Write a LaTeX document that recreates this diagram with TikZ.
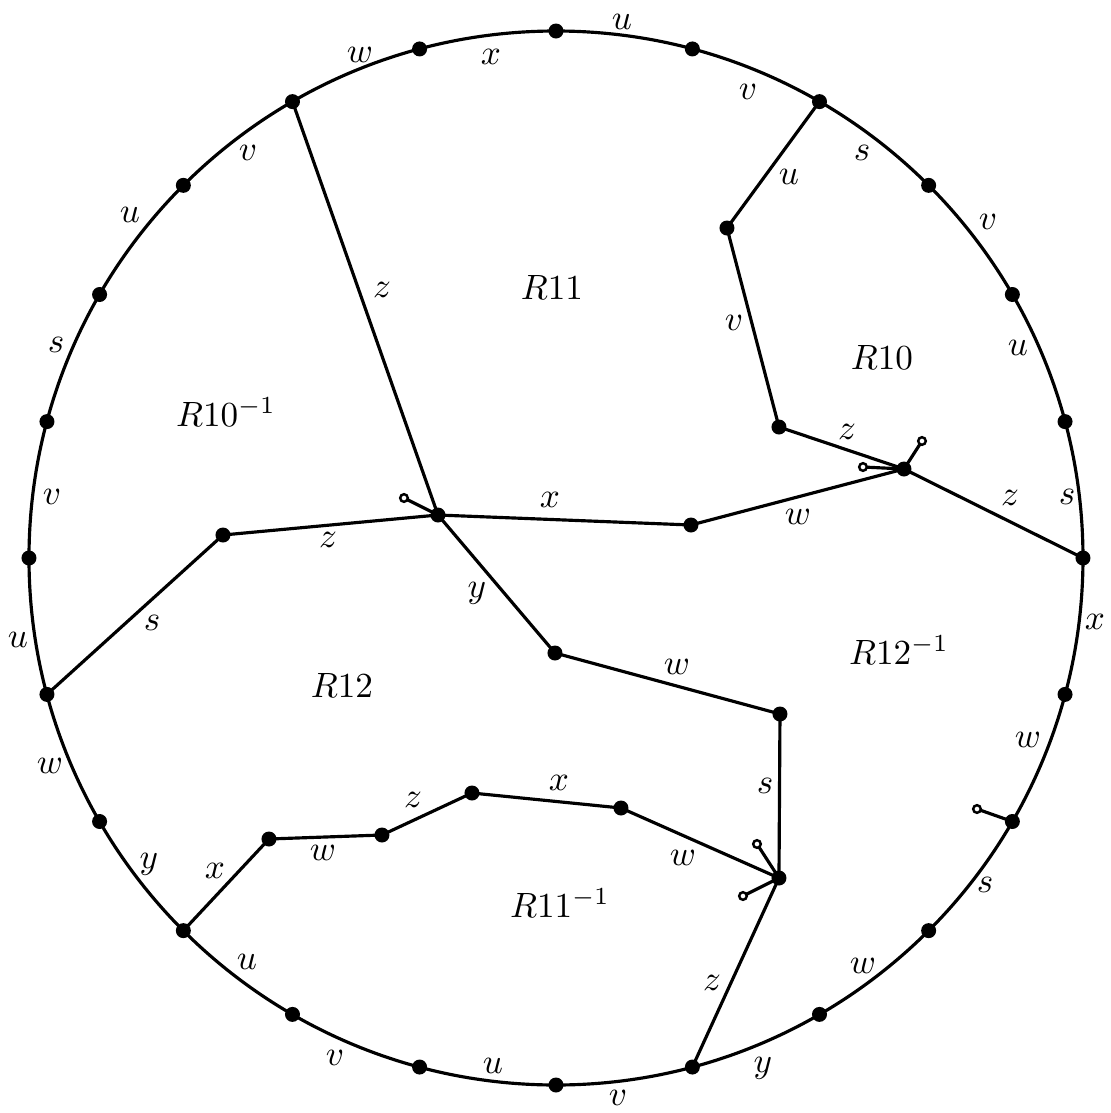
\documentclass[tikz,border=0pt]{standalone}
\usepackage{xcolor}
\usepackage{amssymb}
\usepackage{tikz}

\begin{document}
\begin{tikzpicture}[line width=0.9pt,
  stub/.style={fill=white,line width=0.7pt}]
\useasboundingbox (-5.56,-5.55) rectangle (5.55,5.58);
\draw (0,0) circle (5.27);
\foreach \i in {0,...,23}
  \coordinate (p\i) at ({90-15*\i}:5.27);
% inner vertices
\coordinate (a) at (1.71,3.30);
\coordinate (b) at (2.23,1.31);
\coordinate (c) at (3.48,0.89);
\coordinate (d) at (-1.18,0.43);
\coordinate (e) at (1.35,0.33);
\coordinate (f) at (-3.33,0.23);
\coordinate (g) at (-0.01,-0.95);
\coordinate (h) at (2.24,-1.56);
\coordinate (i) at (2.23,-3.20);
\coordinate (j) at (0.65,-2.50);
\coordinate (k) at (-0.84,-2.35);
\coordinate (l) at (-1.74,-2.77);
\coordinate (m) at (-2.87,-2.81);
% loose ends
\coordinate (c1) at (3.07,0.91);
\coordinate (c2) at (3.66,1.17);
\coordinate (d1) at (-1.52,0.60);
\coordinate (i1) at (2.01,-2.86);
\coordinate (i2) at (1.87,-3.38);
\coordinate (q1) at (4.21,-2.51);
% edges
\draw (p2) -- (a) -- (b) -- (c) -- (p6);
\draw (c) -- (e) -- (d) -- (p22);
\draw (d) -- (f) -- (p17);
\draw (d) -- (g) -- (h) -- (i) -- (j) -- (k) -- (l) -- (m) -- (p15);
\draw (i) -- (p11);
\draw (c) -- (c1); \draw (c) -- (c2);
\draw (d) -- (d1);
\draw (i) -- (i1); \draw (i) -- (i2);
\draw (p8) -- (q1);
% dots
\foreach \i in {0,...,23}
  \fill (p\i) circle (0.075);
\foreach \v in {a,b,c,d,e,f,g,h,i,j,k,l,m}
  \fill (\v) circle (0.075);
\foreach \v in {c1,c2,d1,i1,i2,q1}
  \draw[stub] (\v) circle (0.038);
% boundary letters
\foreach \x/\y/\t [count=\n] in {0.66/5.36/u, 1.92/4.66/v, 3.06/4.05/s, 4.32/3.36/v,
    4.62/2.10/u, 5.11/0.61/s, 5.39/-0.64/x, 4.72/-1.82/w, 4.29/-3.27/s, 3.07/-4.08/w,
    2.07/-5.10/y, 0.62/-5.40/v, -0.63/-5.08/u, -2.21/-5.00/v, -3.09/-4.04/u,
    -4.07/-3.06/y, -5.06/-2.08/w, -5.38/-0.82/u, -5.04/0.61/v, -5.00/2.13/s,
    -4.26/3.43/u, -3.08/4.05/v, -1.96/5.03/w, -0.65/5.01/x}
  \node (arc\n) at (\x,\y) {$\t$};
% edge letters
\foreach \x/\y/\t [count=\n] in {2.33/3.81/u, 1.78/2.35/v, 2.91/1.26/z, 4.54/0.60/z,
    2.42/0.41/w, -0.06/0.58/x, -1.74/2.68/z, -2.28/0.18/z, -4.04/-0.65/s,
    -0.79/-0.35/y, 1.21/-1.09/w, 2.09/-2.28/s, 1.27/-3.00/w, 0.03/-2.25/x,
    -1.43/-2.42/z, -2.33/-2.95/w, -3.41/-3.13/x, 1.56/-4.25/z}
  \node (lab\n) at (\x,\y) {$\t$};
% regions
\node (r11) at (-0.04,2.71) {$R11$};
\node (r10) at (3.26,2.01) {$R10$};
\node (r10i) at (-3.30,1.46) {$R10^{-1}$};
\node (r12i) at (3.43,-0.92) {$R12^{-1}$};
\node (r12) at (-2.14,-1.27) {$R12$};
\node (r11i) at (0.04,-3.45) {$R11^{-1}$};
\end{tikzpicture}
\end{document}
